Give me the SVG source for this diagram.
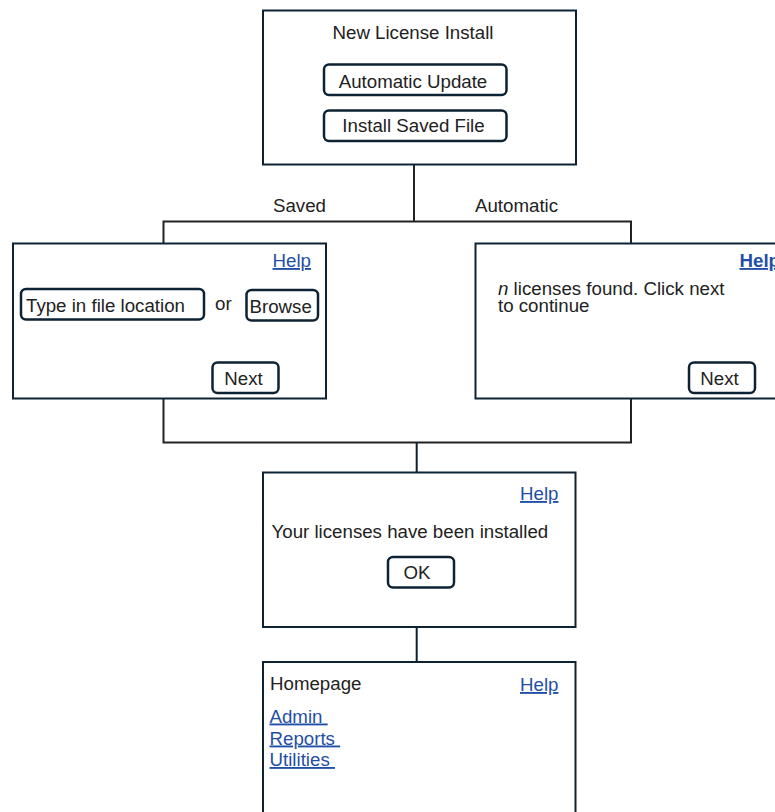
<svg xmlns="http://www.w3.org/2000/svg" width="775" height="812" viewBox="0 0 775 812">
<style>
.box{fill:#fff;stroke:#0d2233;stroke-width:2}
.btn{fill:#fff;stroke:#0d2233;stroke-width:2.5}
.t{font-family:"Liberation Sans",Arial,sans-serif;font-size:18.7px;fill:#222}
.c{text-anchor:middle}
.lnk{font-family:"Liberation Sans",Arial,sans-serif;font-size:18.7px;fill:#1f4fa6;text-decoration:underline;white-space:pre}
.con{fill:none;stroke:#222;stroke-width:2}
.conb{fill:none;stroke:#0d2233;stroke-width:2}
</style>
<rect width="775" height="812" fill="#fff"/>
<g id="connectors">
<path class="con" d="M414,165 V221.5 M163.5,221.5 H631 M163.5,220.5 V243 M631,220.5 V243"/>
<path class="con" d="M163.5,399 V442.5 H631 V399" stroke-width="3.5"/>
<path class="conb" d="M416.7,442.5 V472 M416.7,627 V662"/>
<text class="t" x="273" y="212">Saved</text>
<text class="t" x="475" y="212">Automatic</text>
</g>
<g id="new-license-install">
<rect class="box" x="263" y="10.5" width="313" height="154"/>
<text class="t c" x="413" y="39">New License Install</text>
<g id="btn-automatic-update">
<rect class="btn" x="324" y="64.5" width="182.5" height="30.5" rx="5"/>
<text class="t c" x="413" y="88">Automatic Update</text>
</g>
<g id="btn-install-saved-file">
<rect class="btn" x="324" y="110.5" width="182.5" height="30.5" rx="5"/>
<text class="t c" x="413.5" y="131.5">Install Saved File</text>
</g>
</g>
<g id="saved-file-screen">
<rect class="box" x="13" y="243.5" width="313" height="155"/>
<text class="lnk" x="272.5" y="267">Help</text>
<rect class="btn" x="21" y="289" width="183" height="30.5" rx="5"/>
<text class="t" x="26" y="312">Type in file location</text>
<text class="t" x="215" y="310">or</text>
<rect class="btn" x="246.5" y="290" width="71.5" height="30.5" rx="5"/>
<text class="t" x="249.5" y="312.5">Browse</text>
<rect class="btn" x="212.5" y="362.5" width="66" height="30.5" rx="5"/>
<text class="t c" x="243.5" y="384.5">Next</text>
</g>
<g id="automatic-screen">
<rect class="box" x="475.5" y="243.5" width="310" height="155"/>
<text class="lnk" x="739.5" y="267" font-weight="bold">Help</text>
<text class="t" x="498" y="295"><tspan font-style="italic">n</tspan> licenses found. Click next</text>
<text class="t" x="498" y="312">to continue</text>
<rect class="btn" x="689" y="362.5" width="66" height="30.5" rx="5"/>
<text class="t c" x="719.5" y="384.5">Next</text>
</g>
<g id="installed-screen">
<rect class="box" x="263" y="472.5" width="312.5" height="154.5"/>
<text class="lnk" x="520" y="500">Help</text>
<text class="t" x="271.5" y="538">Your licenses have been installed</text>
<rect class="btn" x="388" y="557" width="66" height="30.5" rx="5"/>
<text class="t c" x="417" y="578.5">OK</text>
</g>
<g id="homepage">
<rect class="box" x="263" y="662" width="312.5" height="160"/>
<text class="t" x="270" y="689.5">Homepage</text>
<text class="lnk" x="520" y="691">Help</text>
<text class="lnk" x="269.5" y="722.5">Admin </text>
<text class="lnk" x="269.5" y="744.5">Reports </text>
<text class="lnk" x="269.5" y="766">Utilities </text>
</g>
</svg>
